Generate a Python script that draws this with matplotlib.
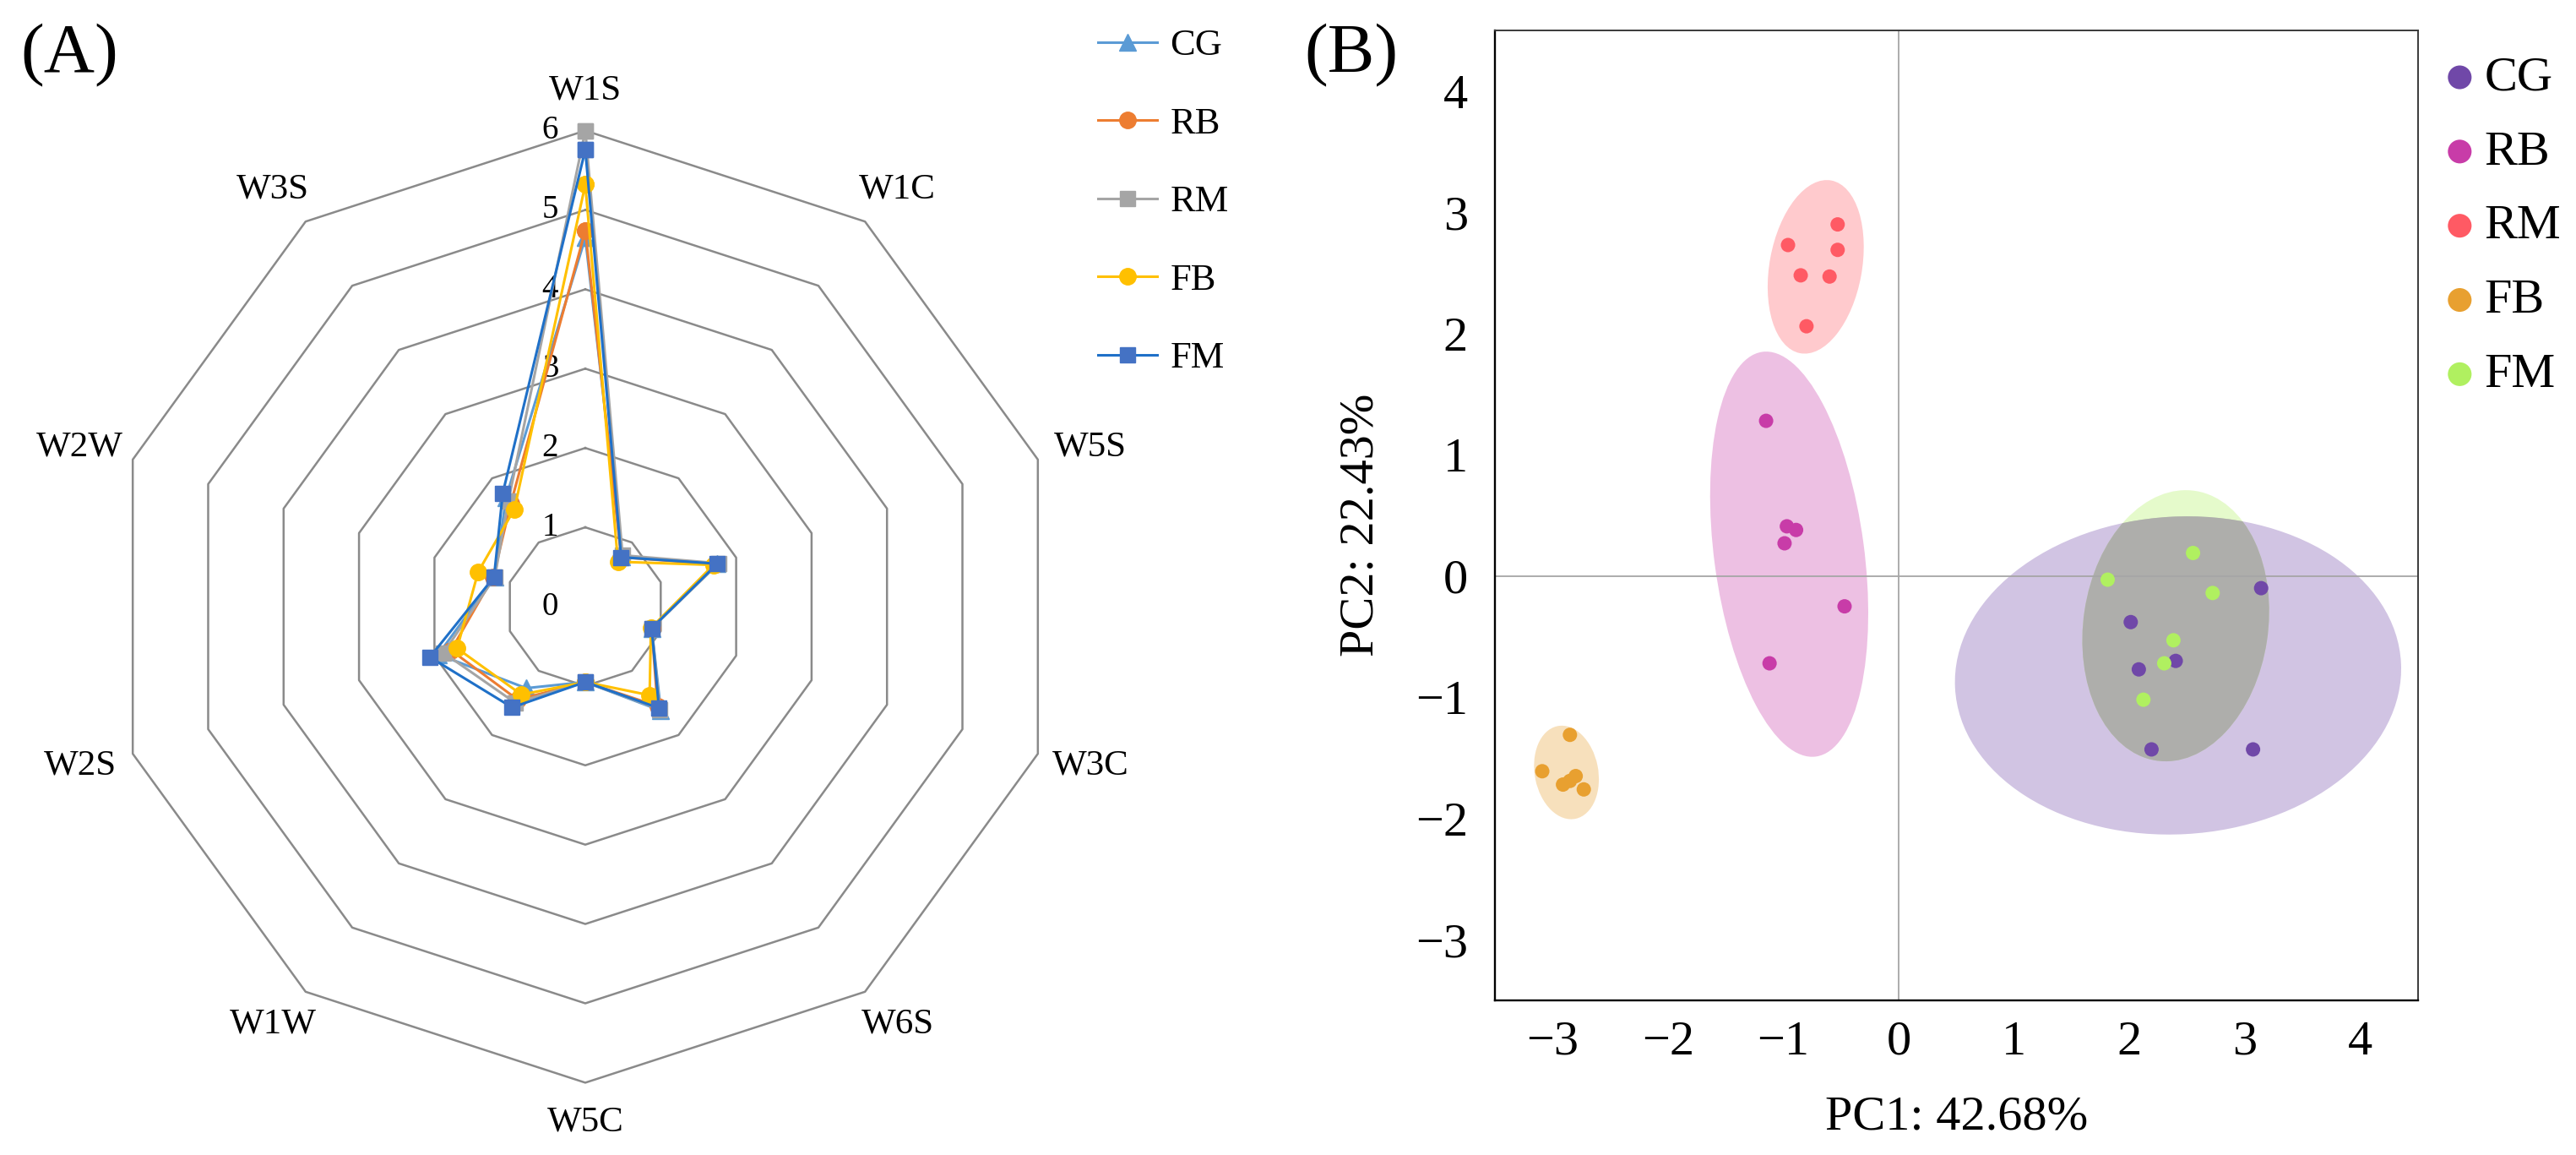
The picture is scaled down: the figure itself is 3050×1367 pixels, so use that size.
import numpy as np
import matplotlib.pyplot as plt
from matplotlib.patches import Ellipse

plt.rcParams['font.family'] = ['Liberation Serif', 'DejaVu Serif']
plt.rcParams['axes.unicode_minus'] = True

# ---------------- data: radar (A) ----------------
sensors = ['W1S', 'W1C', 'W5S', 'W3C', 'W6S', 'W5C', 'W1W', 'W2S', 'W2W', 'W3S']
groups = ['CG', 'RB', 'RM', 'FB', 'FM']
cg_vals = [4.65, 0.78, 1.75, 0.88, 1.62, 0.95, 1.27, 1.95, 1.20, 1.70]
rb_vals = [4.74, 0.77, 1.73, 0.88, 1.55, 0.95, 1.45, 1.78, 1.22, 1.60]
rm_vals = [6.00, 0.80, 1.77, 0.88, 1.60, 0.95, 1.50, 1.88, 1.20, 1.65]
fb_vals = [5.32, 0.70, 1.70, 0.87, 1.38, 0.95, 1.37, 1.70, 1.42, 1.52]
fm_vals = [5.76, 0.77, 1.75, 0.88, 1.58, 0.95, 1.57, 2.06, 1.21, 1.77]
ring_levels = [1, 2, 3, 4, 5, 6]

# ---------------- data: PCA (B) ----------------
cg_pc1 = [3.14, 2.01, 2.08, 2.40, 2.19, 3.07]
cg_pc2 = [-0.10, -0.38, -0.77, -0.70, -1.43, -1.43]
rb_pc1 = [-1.15, -0.97, -0.89, -0.99, -0.47, -1.12]
rb_pc2 = [1.28, 0.41, 0.38, 0.27, -0.25, -0.72]
rm_pc1 = [-0.53, -0.96, -0.53, -0.85, -0.60, -0.80]
rm_pc2 = [2.90, 2.73, 2.69, 2.48, 2.47, 2.06]
fb_pc1 = [-2.85, -3.09, -2.80, -2.91, -2.85, -2.73]
fb_pc2 = [-1.31, -1.61, -1.65, -1.72, -1.69, -1.76]
fm_pc1 = [1.81, 2.55, 2.72, 2.38, 2.30, 2.12]
fm_pc2 = [-0.03, 0.19, -0.14, -0.53, -0.72, -1.02]

# confidence ellipses: centre, width, height, angle
ell_cx = [2.42, -0.95, -0.72, -2.88, 2.40]
ell_cy = [-0.82, 0.18, 2.55, -1.62, -0.41]
ell_w = [3.87, 1.30, 0.80, 0.55, 1.60]
ell_h = [2.62, 3.37, 1.45, 0.78, 2.25]
ell_ang = [3, 8, -11, 12, -9]

pc_ticks = [-3, -2, -1, 0, 1, 2, 3, 4]

# ---------------- figure ----------------
W, H = 3050, 1367
fig = plt.figure(figsize=(W / 100, H / 100), dpi=100)

# radar drawn on a plain axes, Excel style (decagon rings, no spokes)
unit = 93.9
cx, cy = 693, 718
axL = fig.add_axes([0, 0, 1400 / W, 1])
axL.set_xlim(-cx / unit, (1400 - cx) / unit)
axL.set_ylim(-(H - cy) / unit, cy / unit)
axL.axis('off')

theta = np.arange(len(sensors)) * 2 * np.pi / len(sensors)
sx, cxs = np.sin(theta), np.cos(theta)

for r in ring_levels:
    axL.plot(np.append(r * sx, r * sx[0]), np.append(r * cxs, r * cxs[0]),
             color='#8a8a8a', lw=1.8, zorder=1)

for v in [0] + ring_levels:
    axL.text(-0.34, v, str(v), ha='right', va='center', fontsize=28, zorder=2)

for i, name in enumerate(sensors):
    axL.text(6.7 * sx[i], 6.5 * cxs[i], name, ha='center', va='center', fontsize=31)

radar_vals = [cg_vals, rb_vals, rm_vals, fb_vals, fm_vals]
line_cols = ['#5B9BD5', '#ED7D31', '#A5A5A5', '#FFC000', '#1F70C8']
mark_cols = ['#5B9BD5', '#ED7D31', '#A5A5A5', '#FFC000', '#4472C4']
markers = ['^', 'o', 's', 'o', 's']
msizes = [14, 14, 13, 14, 13]

handles = []
for vals, lc, mc, m, ms, g in zip(radar_vals, line_cols, mark_cols, markers, msizes, groups):
    v = np.array(vals)
    h, = axL.plot(np.append(v * sx, v[0] * sx[0]), np.append(v * cxs, v[0] * cxs[0]),
                  color=lc, lw=2.2, marker=m, markersize=ms, markerfacecolor=mc,
                  markeredgecolor=mc, label=g, zorder=3)
    handles.append(h)

fig.legend(handles, groups, loc='upper left', bbox_to_anchor=(1300 / W, 1 - 34 / H),
           frameon=False, fontsize=32, handlelength=1.58, handletextpad=0.34,
           labelspacing=1.18, borderpad=0, borderaxespad=0)

# ---------------- PCA ----------------
axR = fig.add_axes([1770 / W, 1 - 1184 / H, 1093 / W, 1148 / H])
axR.set_xlim(-3.5, 4.5)
axR.set_ylim(-3.5, 4.5)
axR.set_xticks(pc_ticks)
axR.set_yticks(pc_ticks)
axR.tick_params(length=0, labelsize=42)
axR.tick_params(axis='x', pad=17)
axR.tick_params(axis='y', pad=23)
for s in ['left', 'bottom']:
    axR.spines[s].set_linewidth(1.7)
    axR.spines[s].set_color('black')
for s in ['top', 'right']:
    axR.spines[s].set_linewidth(1.4)
    axR.spines[s].set_color('#3a3a3a')

axR.axhline(0, color='#a6a6a6', lw=1.3, zorder=1.5)
axR.axvline(0, color='#a6a6a6', lw=1.3, zorder=1.5)

pc1_all = [cg_pc1, rb_pc1, rm_pc1, fb_pc1, fm_pc1]
pc2_all = [cg_pc2, rb_pc2, rm_pc2, fb_pc2, fm_pc2]
pt_cols = ['#7048A8', '#C83CA8', '#FF5A64', '#E8A030', '#B0F060']

ells = []
for i, c in enumerate(pt_cols):
    e = Ellipse((ell_cx[i], ell_cy[i]), ell_w[i], ell_h[i], angle=ell_ang[i],
                facecolor=c, alpha=0.32, edgecolor='none', zorder=1)
    axR.add_patch(e)
    ells.append(e)

# CG / FM overlap shows as grey
ov = Ellipse((ell_cx[4], ell_cy[4]), ell_w[4], ell_h[4], angle=ell_ang[4],
             facecolor='#aeaeab', edgecolor='none', zorder=1.2)
axR.add_patch(ov)
ov.set_clip_path(ells[0])

for x, y, c, g in zip(pc1_all, pc2_all, pt_cols, groups):
    axR.scatter(x, y, s=150, color=c, edgecolors='none', zorder=3, label=g)

axR.legend(loc='upper left', bbox_to_anchor=(2889 / W, 1 - 66 / H),
           bbox_transform=fig.transFigure, frameon=False, fontsize=42,
           handlelength=0.8, handletextpad=0.1, labelspacing=0.6,
           borderpad=0, borderaxespad=0, markerscale=1.65, scatterpoints=1)

axR.set_xlabel('PC1: 42.68%', fontsize=42, va='center')
axR.xaxis.set_label_coords(0.5, -0.121)
axR.set_ylabel('PC2: 22.43%', fontsize=42, va='center')
axR.yaxis.set_label_coords(-0.145, 0.49)

fig.text(82 / W, 1 - 66 / H, '(A)', fontsize=60, ha='center', va='center')
fig.text(1600 / W, 1 - 66 / H, '(B)', fontsize=60, ha='center', va='center')

fig.savefig('out.png', dpi=100)
